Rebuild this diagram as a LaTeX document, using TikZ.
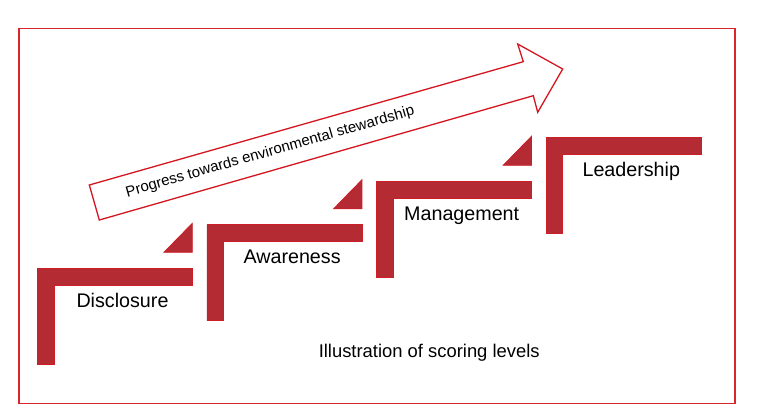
\documentclass[tikz,border=0pt]{standalone}
\usepackage{fontspec}
\setmainfont{Liberation Sans}
\definecolor{framered}{RGB}{218,37,42}
\definecolor{stepfill}{RGB}{181,43,52}
\definecolor{stepline}{RGB}{205,30,40}
\definecolor{arrowred}{RGB}{212,22,32}
\begin{document}
\begin{tikzpicture}[x=1pt,y=-1pt,
  stairshape/.style={fill=stepfill,draw=stepline,line width=0.8pt,line join=miter},
  levellabel/.style={anchor=base,font=\fontsize{19.7}{22}\selectfont,inner sep=0pt,text=black},
  progarrow/.style={draw=arrowred,fill=white,line width=1.3pt,line join=miter},
  caption/.style={anchor=base,font=\fontsize{18.4}{22}\selectfont,inner sep=0pt,text=black}]
\useasboundingbox (0,0) rectangle (764,417);
\fill[white] (0,0) rectangle (764,417);
\draw[framered,line width=1.6pt] (19,28.5) rectangle (734.7,403.3);
% progress arrow
\path[progarrow] (89.3,185) -- (523.3,61.7) -- (517.7,44) -- (562.7,69) -- (537.7,112.3) -- (533.3,95.7) -- (99.3,220) -- cycle;
\node[rotate=16,font=\fontsize{15}{18}\selectfont,inner sep=0pt] (prog) at (270.2,152.1) {Progress towards environmental stewardship};
% steps
\foreach \k/\name in {0/Disclosure,1/Awareness,2/Management,3/Leadership}{
  \pgfmathsetmacro\L{37.3+169.6*\k}
  \pgfmathsetmacro\T{268.3-43.5*\k}
  \path[stairshape] (\L,\T) -- ++(155,0) -- ++(0,16.7) -- ++(-138.3,0) -- ++(0,79.3) -- ++(-16.7,0) -- cycle;
  \node[levellabel] (lab\k) at (\L+85.2,\T+39.2) {\name};
}
\foreach \k in {0,1,2}{
  \pgfmathsetmacro\R{37.3+169.6*\k+155}
  \pgfmathsetmacro\T{268.3-43.5*\k}
  \path[stairshape] (\R,\T-16) -- (\R,\T-45) -- (\R-28.3,\T-16) -- cycle;
}
\node[caption] (cap) at (429.2,357.3) {Illustration of scoring levels};
\end{tikzpicture}
\end{document}
